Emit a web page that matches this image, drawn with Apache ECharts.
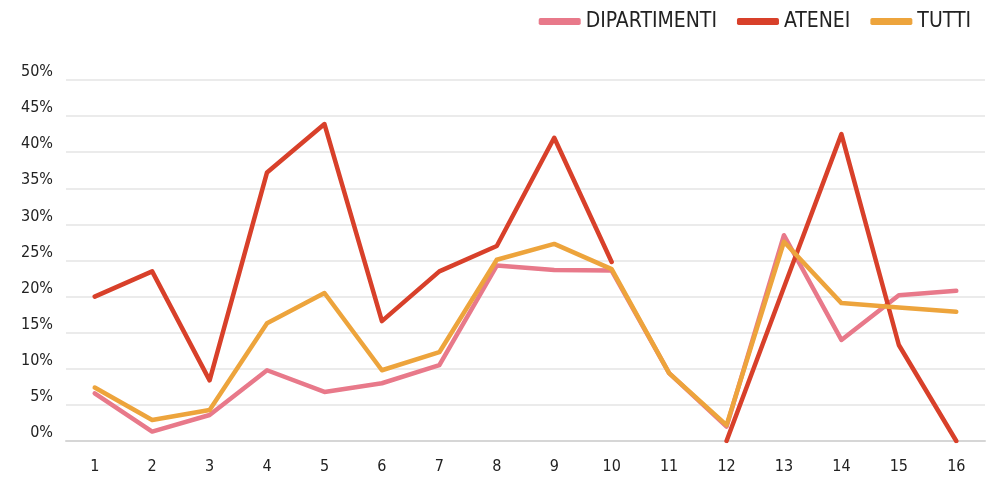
<!DOCTYPE html>
<html>
<head>
<meta charset="utf-8">
<script src="https://cdn.jsdelivr.net/npm/echarts@6/dist/echarts.min.js"></script>
<style>
html,body{margin:0;padding:0;background:#fff;}
#chart{width:988px;height:477px;}
</style>
</head>
<body>
<div id="chart"></div>
<script>
var categories = ['1','2','3','4','5','6','7','8','9','10','11','12','13','14','15','16'];
var dipartimenti = [6.6, 1.3, 3.6, 9.8, 6.8, 8.0, 10.5, 24.3, 23.7, 23.6, 9.4, 2.0, 28.5, 14.0, 20.2, 20.8];
var atenei = [20.0, 23.5, 8.4, 37.2, 43.9, 16.6, 23.5, 27.0, 42.0, 24.8, null, 0, 21.3, 42.5, 13.3, 0];
var tutti = [7.4, 2.9, 4.3, 16.3, 20.5, 9.8, 12.3, 25.1, 27.3, 23.8, 9.4, 2.2, 27.6, 19.1, 18.5, 17.9];
var seriesNames = ['DIPARTIMENTI', 'ATENEI', 'TUTTI'];
var colors = ['#E8798A', '#D8402A', '#EDA43C'];

var font = "'Liberation Sans Narrow', 'DejaVu Sans Condensed', 'Open Sans', sans-serif";
var chart = echarts.init(document.getElementById('chart'), null, {renderer: 'canvas'});
var dataSets = [dipartimenti, atenei, tutti];
chart.setOption({
  animation: false,
  color: colors,
  legend: {
    right: 12,
    top: 6,
    itemWidth: 42,
    itemHeight: 7,
    itemGap: 20,
    icon: 'roundRect',
    textStyle: {fontFamily: font, fontSize: 21, color: '#222'},
    data: seriesNames
  },
  grid: {left: 66, right: 3, top: 80, bottom: 36, containLabel: false},
  xAxis: {
    type: 'category',
    data: categories,
    boundaryGap: true,
    axisLine: {show: true, lineStyle: {color: '#d6d6d6', width: 2}},
    axisTick: {show: false},
    axisLabel: {fontFamily: font, fontSize: 16, color: '#222', margin: 18}
  },
  yAxis: {
    type: 'value',
    min: 0,
    max: 50,
    interval: 5,
    axisLine: {show: false},
    axisTick: {show: false},
    splitLine: {lineStyle: {color: '#e4e4e4', width: 1.5}},
    axisLabel: {fontFamily: font, fontSize: 16, color: '#222', margin: 13, formatter: '{value}%', verticalAlign: 'bottom'}
  },
  series: seriesNames.map(function (n, i) {
    return {
      name: n,
      type: 'line',
      data: dataSets[i],
      symbol: 'none',
      connectNulls: false,
      lineStyle: {width: 4.5, color: colors[i], cap: 'round', join: 'round'}
    };
  })
});
</script>
</body>
</html>
